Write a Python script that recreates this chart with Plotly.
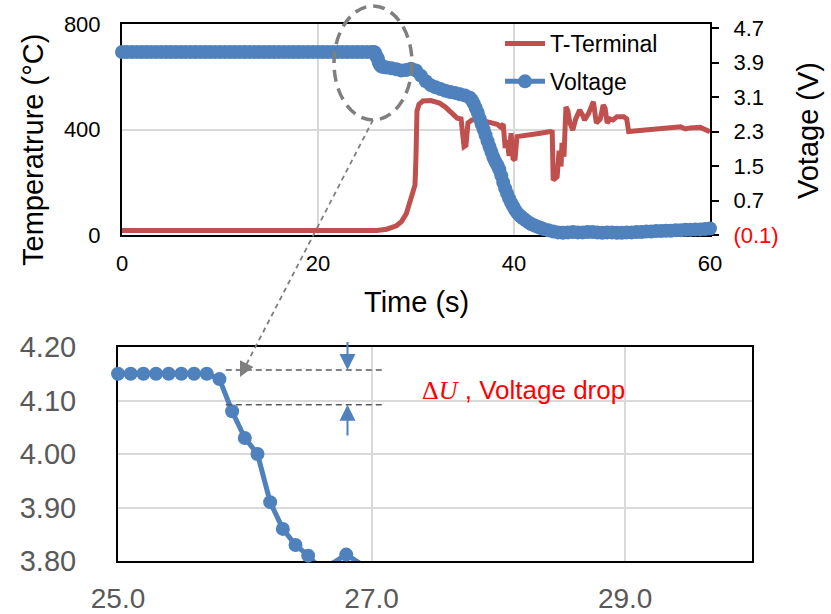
import plotly.graph_objects as go

# ---------------- data ----------------
# Top chart: terminal temperature (°C) vs time (s)
temp_time = [0.0, 26.0, 27.0, 28.0, 28.5, 29.0, 29.5, 29.9, 30.0, 30.1, 30.3, 30.7, 31.5, 32.4,
             33.0, 33.5, 34.2, 34.6, 34.9, 35.1, 35.3, 35.7, 36.5, 37.2, 37.9, 38.3, 38.6, 38.9,
             39.1, 39.3, 39.5, 39.7, 39.9, 40.1, 40.3, 41.0, 42.0, 42.7, 43.7, 43.9, 44.0, 44.2,
             44.4, 44.6, 44.8, 44.9, 45.1, 45.3, 45.5, 45.7, 46.0, 46.3, 46.7, 47.0, 47.2, 47.6,
             48.1, 48.4, 48.8, 49.1, 49.3, 49.5, 49.8, 50.1, 50.5, 51.2, 51.5, 51.7, 52.5, 53.5,
             54.5, 55.5, 56.5, 57.0, 57.5, 58.0, 59.0, 59.5, 60.0]
temp_vals = [17, 17, 22, 35, 50, 80, 140, 190, 300, 470, 495, 508, 510, 500,
             485, 467, 443, 440, 335, 340, 425, 436, 443, 430, 425, 420, 410, 420,
             330, 360, 300, 386, 290, 284, 373, 378, 383, 386, 392, 390, 208, 215,
             221, 320, 260, 349, 297, 486, 470, 425, 398, 440, 474, 455, 436, 460,
             505, 425, 440, 493, 480, 425, 440, 436, 448, 448, 440, 392, 395, 400,
             402, 405, 408, 410, 402, 406, 408, 400, 392]

# Top chart: voltage (V) vs time (s)
volt_time = [0.0, 0.5, 1.0, 1.5, 2.0, 2.5, 3.0, 3.5, 4.0, 4.5, 5.0, 5.5, 6.0, 6.5, 7.0, 7.5,
             8.0, 8.5, 9.0, 9.5, 10.0, 10.5, 11.0, 11.5, 12.0, 12.5, 13.0, 13.5, 14.0, 14.5,
             15.0, 15.5, 16.0, 16.5, 17.0, 17.5, 18.0, 18.5, 19.0, 19.5, 20.0, 20.5, 21.0,
             21.5, 22.0, 22.5, 23.0, 23.5, 24.0, 24.5, 25.0, 25.5, 25.7, 25.8, 25.9, 26.0,
             26.1, 26.2, 26.3, 26.4, 26.5, 26.75, 27.0, 27.5, 28.0, 28.5, 29.0, 29.5, 30.0,
             30.5, 31.0, 31.5, 32.0, 32.5, 33.0, 33.5, 34.0, 34.5, 35.0, 35.5, 35.7, 35.9,
             36.1, 36.3, 36.5, 36.7, 36.9, 37.1, 37.3, 37.5, 37.7, 37.9, 38.1, 38.3, 38.5,
             38.7, 38.9, 39.1, 39.3, 39.5, 39.7, 39.9, 40.1, 40.3, 40.5, 40.7, 40.9, 41.2,
             41.5, 41.8, 42.1, 42.4, 42.7, 43.0, 43.5, 44.0, 44.5, 45.0, 45.5, 46.0, 46.5,
             47.0, 47.5, 48.0, 48.5, 49.0, 49.5, 50.0, 50.5, 51.0, 51.5, 52.0, 52.5, 53.0,
             53.5, 54.0, 54.5, 55.0, 55.5, 56.0, 56.5, 57.0, 57.5, 58.0, 58.5, 59.0, 59.5, 60.0]
volt_vals = [4.15, 4.15, 4.15, 4.15, 4.15, 4.15, 4.15, 4.15, 4.15, 4.15, 4.15, 4.15, 4.15,
             4.15, 4.15, 4.15, 4.15, 4.15, 4.15, 4.15, 4.15, 4.15, 4.15, 4.15, 4.15, 4.15,
             4.15, 4.15, 4.15, 4.15, 4.15, 4.15, 4.15, 4.15, 4.15, 4.15, 4.15, 4.15, 4.15,
             4.15, 4.15, 4.15, 4.15, 4.15, 4.15, 4.15, 4.15, 4.15, 4.15, 4.15, 4.15, 4.15,
             4.15, 4.14, 4.08, 4.03, 4.00, 3.91, 3.86, 3.83, 3.81, 3.80, 3.79, 3.77, 3.75,
             3.72, 3.73, 3.76, 3.72, 3.60, 3.47, 3.38, 3.33, 3.29, 3.25, 3.22, 3.20, 3.17,
             3.14, 3.09, 3.03, 2.95, 2.85, 2.74, 2.60, 2.47, 2.35, 2.22, 2.08, 1.95, 1.83,
             1.70, 1.60, 1.52, 1.42, 1.28, 1.12, 0.98, 0.86, 0.75, 0.65, 0.57, 0.49, 0.42,
             0.37, 0.33, 0.29, 0.24, 0.19, 0.15, 0.12, 0.09, 0.07, 0.04, 0.01, -0.02, -0.04,
             -0.05, -0.04, -0.03, -0.04, -0.04, -0.03, -0.03, -0.04, -0.05, -0.04, -0.04,
             -0.05, -0.05, -0.04, -0.04, -0.03, -0.03, -0.02, -0.02, -0.01, -0.01, 0.00,
             0.00, 0.01, 0.01, 0.02, 0.02, 0.03, 0.03, 0.04, 0.05]

# Bottom (zoomed) chart: voltage (V) vs time (s)
zoom_time = [25.0, 25.1, 25.2, 25.3, 25.4, 25.5, 25.6, 25.7, 25.8, 25.9, 26.0, 26.1, 26.2,
             26.3, 26.4, 26.5, 26.6, 26.7, 26.8, 26.9, 27.0, 27.1, 27.2]
zoom_vals = [4.15, 4.15, 4.15, 4.15, 4.15, 4.15, 4.15, 4.15, 4.14, 4.08, 4.03, 4.00, 3.91,
             3.86, 3.83, 3.81, 3.785, 3.797, 3.812, 3.797, 3.77, 3.79, 3.77]

# Tick labels
volt_tickvals = [-0.1, 0.7, 1.5, 2.3, 3.1, 3.9, 4.7]
volt_ticktext = ["<span style='color:#FF0000'>(0.1)</span>", "0.7", "1.5", "2.3", "3.1", "3.9", "4.7"]
zoom_min = 3.795

# ---------------- styling ----------------
W, H = 831, 614
RED = "#C0504D"
BLUE = "#4F81BD"
GRID = "#D9D9D9"
FONT = "Liberation Sans, Arial, sans-serif"


def px(x):
    return x / W


def py(y):
    return 1 - y / H


fig = go.Figure()

fig.add_trace(go.Scatter(
    x=temp_time, y=temp_vals, name="T-Terminal", mode="lines",
    line=dict(color=RED, width=5), xaxis="x", yaxis="y", legendgroup="a"))

fig.add_trace(go.Scatter(
    x=volt_time, y=volt_vals, name="Voltage", mode="lines+markers",
    line=dict(color=BLUE, width=5),
    marker=dict(color=BLUE, size=14, opacity=1, line=dict(width=0)),
    cliponaxis=False, xaxis="x", yaxis="y2", legendgroup="b"))

zoom_sizes = [14 if v >= zoom_min else 0 for v in zoom_vals]
fig.add_trace(go.Scatter(
    x=zoom_time, y=zoom_vals, mode="lines+markers", showlegend=False,
    line=dict(color=BLUE, width=5),
    marker=dict(color=BLUE, size=zoom_sizes, opacity=1, line=dict(width=0)),
    cliponaxis=False, xaxis="x2", yaxis="y3"))

top_dom_x = [px(122), px(710)]
top_dom_y = [py(235), py(24)]
bot_dom_x = [px(118), px(752)]
bot_dom_y = [py(561), py(347)]

fig.update_layout(
    width=W, height=H,
    margin=dict(l=0, r=0, t=0, b=0, autoexpand=False),
    paper_bgcolor="white", plot_bgcolor="white",
    font=dict(family=FONT, color="black"),
    showlegend=True,
    legend=dict(x=px(500), y=py(22), xanchor="left", yanchor="top",
                font=dict(size=23, color="black"), bgcolor="rgba(0,0,0,0)",
                traceorder="grouped", tracegroupgap=5, itemwidth=40),
    xaxis=dict(domain=top_dom_x, range=[0, 60], tickvals=[0, 20, 40, 60],
               showgrid=True, gridcolor=GRID, gridwidth=1.5,
               showline=True, linecolor="black", linewidth=2, mirror=True,
               ticks="", ticklabelstandoff=8, zeroline=False,
               tickfont=dict(size=22, color="black"), layer="below traces",
               anchor="y"),
    yaxis=dict(domain=top_dom_y, range=[0, 800], tickvals=[0, 400, 800],
               showgrid=True, gridcolor=GRID, gridwidth=1.5,
               showline=True, linecolor="black", linewidth=2, mirror=True,
               ticks="", ticklabelstandoff=15, zeroline=False,
               tickfont=dict(size=22, color="black"), layer="below traces",
               anchor="x"),
    yaxis2=dict(overlaying="y", side="right", range=[-0.1, 4.8],
                tickvals=volt_tickvals, ticktext=volt_ticktext,
                showgrid=False, showline=True, linecolor="black", linewidth=2,
                ticks="outside", ticklen=7, tickwidth=1.5, tickcolor="black",
                ticklabelstandoff=10, zeroline=False,
                tickfont=dict(size=22, color="black"), layer="below traces",
                anchor="x"),
    xaxis2=dict(domain=bot_dom_x, range=[25, 30], tickvals=[25, 27, 29],
                tickformat=".1f", showgrid=True, gridcolor=GRID, gridwidth=1.5,
                showline=True, linecolor="black", linewidth=2, mirror=True,
                ticks="", ticklabelstandoff=11, zeroline=False,
                tickfont=dict(size=28, color="#595959"), layer="below traces",
                anchor="y3"),
    yaxis3=dict(domain=bot_dom_y, range=[3.80, 4.20],
                tickvals=[3.8, 3.9, 4.0, 4.1, 4.2], tickformat=".2f",
                showgrid=True, gridcolor=GRID, gridwidth=1.5,
                showline=True, linecolor="black", linewidth=2, mirror=True,
                ticks="", ticklabelstandoff=34, zeroline=False,
                tickfont=dict(size=29, color="#595959"), layer="below traces",
                anchor="x2"),
)

annotations = [
    dict(text="Temperatrure (°C)", x=px(33), y=py(150), xref="paper", yref="paper",
         textangle=-90, showarrow=False, font=dict(size=29, color="black"),
         xanchor="center", yanchor="middle"),
    dict(text="Votage (V)", x=px(808), y=py(131), xref="paper", yref="paper",
         textangle=-90, showarrow=False, font=dict(size=29, color="black"),
         xanchor="center", yanchor="middle"),
    dict(text="Time (s)", x=px(416), y=py(302), xref="paper", yref="paper",
         showarrow=False, font=dict(size=29, color="black"),
         xanchor="center", yanchor="middle"),
    dict(text="<span style='font-family:Liberation Serif, DejaVu Serif, serif'>Δ<i>U</i></span> , Voltage drop",
         x=px(420), y=py(390), xref="paper", yref="paper", showarrow=False,
         font=dict(size=26, color="#FF0000"), xanchor="left", yanchor="middle"),
    # gray arrowhead at the end of the dashed connector
    dict(text="", x=px(240), y=py(377), xref="paper", yref="paper",
         showarrow=True, ax=7, ay=-14, arrowhead=2, arrowsize=1.5, arrowwidth=2,
         arrowcolor="#7F7F7F"),
    # blue arrows marking the drop
    dict(text="", x=26.81, y=4.157, xref="x2", yref="y3", ax=26.81, ay=4.212,
         axref="x2", ayref="y3", showarrow=True, arrowhead=2, arrowsize=1.6,
         arrowwidth=2, arrowcolor=BLUE),
    dict(text="", x=26.81, y=4.092, xref="x2", yref="y3", ax=26.81, ay=4.032,
         axref="x2", ayref="y3", showarrow=True, arrowhead=2, arrowsize=1.6,
         arrowwidth=2, arrowcolor=BLUE),
]

shapes = [
    # dashed ellipse highlighting the drop in the top chart
    dict(type="circle", xref="paper", yref="paper",
         x0=px(334), x1=px(412), y0=py(120), y1=py(6),
         line=dict(color="#7F7F7F", width=3.5, dash="12px,7px")),
    # dashed connector from ellipse to zoomed chart
    dict(type="line", xref="paper", yref="paper",
         x0=px(373), y0=py(120), x1=px(244), y1=py(369),
         line=dict(color="#7F7F7F", width=1.8, dash="5px,4px")),
    # dashed level lines in the zoomed chart
    dict(type="line", xref="x2", yref="y3", x0=25.85, x1=27.08, y0=4.157, y1=4.157,
         line=dict(color="#595959", width=1.5, dash="6px,4px")),
    dict(type="line", xref="x2", yref="y3", x0=25.85, x1=27.08, y0=4.092, y1=4.092,
         line=dict(color="#595959", width=1.5, dash="6px,4px")),
]

fig.update_layout(annotations=annotations, shapes=shapes)
fig.write_html(
    "out.html",
    config={"displayModeBar": False},
    post_script="document.body.style.margin='0px';document.body.style.overflow='hidden';",
)
